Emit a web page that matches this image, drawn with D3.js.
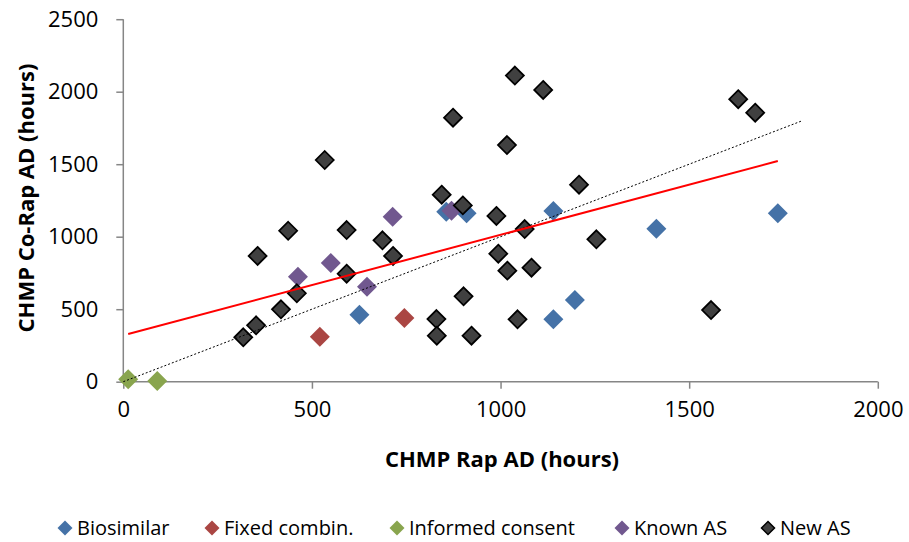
<!DOCTYPE html>
<html>
<head>
<meta charset="utf-8">
<script src="https://d3js.org/d3.v7.min.js"></script>
<style>
  body { margin: 0; background: #fff; }
  text { font-family: "Open Sans", sans-serif; fill: #000; }
</style>
</head>
<body>
<div id="chart"></div>
<script>
// values
var seriesNames = ["Biosimilar", "Fixed combin.", "Informed consent", "Known AS", "New AS"];
var seriesColors = ["#4572A7", "#AA4643", "#89A54E", "#71588F", "#404040"];

var biosimilarX = [626, 856, 910, 1140, 1140, 1197, 1413, 1735];
var biosimilarY = [462, 1172, 1161, 1177, 430, 563, 1055, 1161];

var fixedX = [521, 745];
var fixedY = [310, 439];

var consentX = [13, 90];
var consentY = [17, 5];

var knownX = [463, 550, 646, 714, 870];
var knownY = [724, 819, 655, 1138, 1179];

var newX = [318, 352, 356, 418, 437, 460, 534, 592, 592, 687, 715, 830, 831, 844, 874, 902, 900, 923,
            989, 994, 1017, 1018, 1038, 1045, 1064, 1082, 1113, 1208, 1254, 1558, 1630, 1675];
var newY = [306, 389, 867, 499, 1041, 610, 1529, 745, 1046, 975, 867, 432, 317, 1290, 1821, 589, 1216, 317,
            1143, 883, 1632, 766, 2111, 430, 1053, 786, 2012, 1359, 982, 494, 1948, 1855];

// red linear trend and dotted y = x reference line
var trendX = [13, 1735];
var trendY = [329, 1522];
var identX = [0, 1800];
var identY = [0, 1800];

var xTicks = [0, 500, 1000, 1500, 2000];
var yTicks = [0, 500, 1000, 1500, 2000, 2500];

var width = 909, height = 542;
var plot = { left: 123.3, right: 877.8, top: 19.2, bottom: 381.7 };

var svg = d3.select("#chart").append("svg")
    .attr("width", width)
    .attr("height", height);

var x = d3.scaleLinear().domain([0, 2000]).range([plot.left, plot.right]);
var y = d3.scaleLinear().domain([0, 2500]).range([plot.bottom, plot.top]);

// axes
var xAxis = svg.append("g")
    .attr("transform", "translate(0," + plot.bottom + ")")
    .call(d3.axisBottom(x).tickValues(xTicks).tickSize(7).tickPadding(13).tickFormat(d3.format("d")));
var yAxis = svg.append("g")
    .attr("transform", "translate(" + plot.left + ",0)")
    .call(d3.axisLeft(y).tickValues(yTicks).tickSize(7).tickPadding(18).tickFormat(d3.format("d")));

[xAxis, yAxis].forEach(function(a) {
    a.select(".domain").attr("stroke", "#868686").attr("stroke-width", 1.5);
    a.selectAll(".tick line").attr("stroke", "#868686").attr("stroke-width", 1.5);
    a.selectAll(".tick text").style("font-size", "22px").style("font-family", "Open Sans, sans-serif").attr("fill", "#000");
});
// plain domain lines, no end caps
xAxis.select(".domain").attr("d", "M" + plot.left + ",0H" + plot.right);
yAxis.select(".domain").attr("d", "M0," + plot.bottom + "V" + plot.top);

// axis titles
svg.append("text")
    .attr("x", 502).attr("y", 467)
    .attr("text-anchor", "middle")
    .style("font-size", "22px").style("font-weight", "bold")
    .text("CHMP Rap AD (hours)");

svg.append("text")
    .attr("transform", "translate(34,198) rotate(-90)")
    .attr("text-anchor", "middle")
    .style("font-size", "22px").style("font-weight", "bold")
    .text("CHMP Co-Rap AD (hours)");

function diamond(r) {
    return "M0," + (-r) + "L" + r + ",0L0," + r + "L" + (-r) + ",0Z";
}

var groups = [
    { xs: biosimilarX, ys: biosimilarY },
    { xs: fixedX, ys: fixedY },
    { xs: consentX, ys: consentY },
    { xs: knownX, ys: knownY },
    { xs: newX, ys: newY }
];

groups.forEach(function(g, i) {
    var pts = g.xs.map(function(v, j) { return [v, g.ys[j]]; });
    var isNew = i === 4;
    svg.append("g").selectAll("path")
        .data(pts)
        .enter().append("path")
        .attr("transform", function(d) { return "translate(" + x(d[0]) + "," + y(d[1]) + ")"; })
        .attr("d", diamond(isNew ? 9 : 10))
        .attr("fill", seriesColors[i])
        .attr("stroke", isNew ? "#000" : "none")
        .attr("stroke-width", isNew ? 1.75 : 0);
});

var line = d3.line().x(function(d) { return x(d[0]); }).y(function(d) { return y(d[1]); });

svg.append("path")
    .datum(identX.map(function(v, j) { return [v, identY[j]]; }))
    .attr("d", line)
    .attr("fill", "none")
    .attr("stroke", "#000")
    .attr("stroke-width", 1)
    .attr("stroke-dasharray", "2,2");

svg.append("path")
    .datum(trendX.map(function(v, j) { return [v, trendY[j]]; }))
    .attr("d", line)
    .attr("fill", "none")
    .attr("stroke", "#FF0000")
    .attr("stroke-width", 2);

// legend
var legendX = [65, 212, 397, 622, 768];
var legend = svg.append("g");
seriesNames.forEach(function(name, i) {
    var g = legend.append("g").attr("transform", "translate(" + legendX[i] + ",528)");
    g.append("path")
        .attr("d", diamond(i === 4 ? 6.5 : 7.5))
        .attr("fill", seriesColors[i])
        .attr("stroke", i === 4 ? "#000" : "none")
        .attr("stroke-width", 1.5);
    g.append("text")
        .attr("x", 12).attr("y", 7)
        .style("font-size", "20px")
        .text(name);
});
</script>
</body>
</html>
